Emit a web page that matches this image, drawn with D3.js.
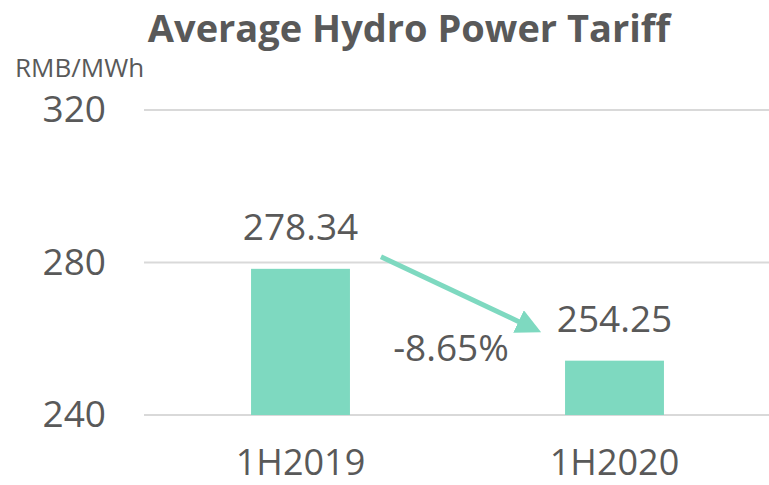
<!DOCTYPE html>
<style>
    body { margin: 0; background: #fff; }
    svg text { font-family: "Segoe UI", "Open Sans", sans-serif; fill: #595959; }
</style>
<body>
<script src="https://d3js.org/d3.v7.min.js"></script>
<script>
    var periods = ["1H2019", "1H2020"];
    var tariffs = [278.34, 254.25];
    var tickValues = [240, 280, 320];
    var changeLabel = "-8.65%";

    var width = 769, height = 485;
    var barColor = "#7ed9c0";

    var svg = d3.select("body").append("svg")
        .attr("width", width)
        .attr("height", height);

    // y scale, fitted to the gridlines of the picture
    var y = d3.scaleLinear()
        .domain([240, 320])
        .range([415, 110]);

    // x bands, gap like the excel bars
    var x = d3.scaleBand()
        .domain(periods)
        .range([143.5, 771.5])
        .paddingInner(0.685)
        .paddingOuter(0.3425);

    // gridlines
    svg.append("g")
        .selectAll("line")
        .data(tickValues)
        .enter().append("line")
          .attr("x1", 144)
          .attr("x2", width)
          .attr("y1", function(d) { return y(d); })
          .attr("y2", function(d) { return y(d); })
          .attr("stroke", "#d9d9d9")
          .attr("stroke-width", 2);

    // tick labels
    svg.append("g")
        .selectAll("text")
        .data(tickValues)
        .enter().append("text")
          .attr("x", 106)
          .attr("y", function(d) { return y(d) + 12; })
          .attr("text-anchor", "end")
          .attr("font-size", 37)
          .text(function(d) { return d; });

    // bars
    svg.append("g")
        .selectAll("rect")
        .data(tariffs)
        .enter().append("rect")
          .attr("x", function(d, i) { return x(periods[i]); })
          .attr("y", function(d) { return y(d); })
          .attr("width", x.bandwidth())
          .attr("height", function(d) { return y(240) - y(d); })
          .attr("fill", barColor);

    // value labels
    svg.append("g")
        .selectAll("text")
        .data(tariffs)
        .enter().append("text")
          .attr("x", function(d, i) { return x(periods[i]) + x.bandwidth() / 2; })
          .attr("y", function(d) { return y(d) - 29; })
          .attr("text-anchor", "middle")
          .attr("font-size", 37)
          .text(function(d) { return d.toFixed(2); });

    // category labels
    svg.append("g")
        .selectAll("text")
        .data(periods)
        .enter().append("text")
          .attr("x", function(d) { return x(d) + x.bandwidth() / 2; })
          .attr("y", 475)
          .attr("text-anchor", "middle")
          .attr("font-size", 36)
          .text(function(d) { return d; });

    // arrow between the two bars
    svg.append("defs").append("marker")
        .attr("id", "head")
        .attr("viewBox", "0 0 10 10")
        .attr("refX", 2)
        .attr("refY", 5)
        .attr("markerWidth", 5)
        .attr("markerHeight", 5)
        .attr("markerUnits", "strokeWidth")
        .attr("orient", "auto")
      .append("path")
        .attr("d", "M0,0 L10,5 L0,10 Z")
        .attr("fill", barColor);

    var x0 = x(periods[0]) + x.bandwidth() + 31,
        y0 = y(tariffs[0]) - 12,
        x1 = x(periods[1]) - 42,
        y1 = y(tariffs[1]) - 37;
    svg.append("line")
        .attr("x1", x0).attr("y1", y0)
        .attr("x2", x1).attr("y2", y1)
        .attr("stroke", barColor)
        .attr("stroke-width", 5)
        .attr("marker-end", "url(#head)");

    svg.append("text")
        .attr("x", 451)
        .attr("y", 361)
        .attr("text-anchor", "middle")
        .attr("font-size", 37)
        .text(changeLabel);

    // unit label and title
    svg.append("text")
        .attr("x", 15)
        .attr("y", 77)
        .attr("font-size", 26)
        .text("RMB/MWh");

    svg.append("text")
        .attr("x", 409)
        .attr("y", 42)
        .attr("text-anchor", "middle")
        .attr("font-size", 38)
        .attr("font-weight", "bold")
        .text("Average Hydro Power Tariff");
</script>
</body>
